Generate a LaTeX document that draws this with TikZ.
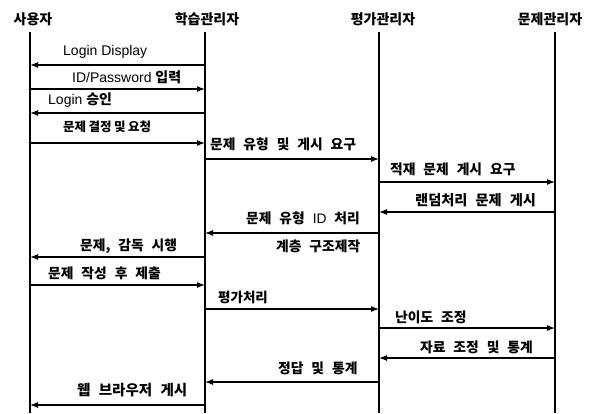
\documentclass[tikz,border=0pt]{standalone}
\usepackage{fontspec}
\setmainfont{Liberation Sans}
\newfontfamily\kr{Noto Sans CJK KR}[WordSpace=2.5]
\usetikzlibrary{arrows.meta}
\begin{document}
\begin{tikzpicture}[x=1pt,y=-1pt,
  life/.style={line width=1.1pt},
  msg/.style={line width=1.1pt,-{Latex[length=8pt,width=6pt]}},
  hdr/.style={font=\kr\bfseries\fontsize{14}{16}\selectfont, inner sep=0},
  lbl/.style={font=\kr\bfseries\fontsize{#1}{#1}\selectfont, inner sep=0, anchor=west},
  lbl/.default=13.8,
  lat/.style={font=\fontsize{14}{16}\selectfont, inner sep=0, anchor=west}]
\useasboundingbox[fill=white] (0,0) rectangle (596,413);
% headers
\node[hdr] (hu) at (33,19) {사용자};
\node[hdr] (hl) at (207,19) {학습관리자};
\node[hdr] (he) at (383,19) {평가관리자};
\node[hdr] (hp) at (550,19) {문제관리자};
% lifelines
\coordinate (u0) at (30,32);  \coordinate (u1) at (30,413);
\coordinate (l0) at (205,32); \coordinate (l1) at (205,413);
\coordinate (e0) at (379,32); \coordinate (e1) at (379,413);
\coordinate (p0) at (555,32); \coordinate (p1) at (555,413);
\draw[life] (u0) -- (u1);
\draw[life] (l0) -- (l1);
\draw[life] (e0) -- (e1);
\draw[life] (p0) -- (p1);
% messages
\draw[msg] (l0 |- 0,65) -- (u0 |- 0,65);
\node[lat] (m1) at (63,52) {Login Display};
\draw[msg] (u0 |- 0,89) -- (l0 |- 0,89);
\node[lat] (m2) at (72,77) {ID/Password {\kr\bfseries 입력}};
\draw[msg] (l0 |- 0,113) -- (u0 |- 0,113);
\node[lat] (m3) at (48,100) {Login {\kr\bfseries 승인}};
\draw[msg] (u0 |- 0,143) -- (l0 |- 0,143);
\node[lbl=12.5] (m4) at (63,127) {\spaceskip=2.5pt\relax 문제 결정 및 요청};
\draw[msg] (l0 |- 0,159) -- (e0 |- 0,159);
\node[lbl] (m5) at (210,144) {문제 유형 및 게시 요구};
\draw[msg] (e0 |- 0,182) -- (p0 |- 0,182);
\node[lbl] (m6) at (390,169) {적재 문제 게시 요구};
\draw[msg] (p0 |- 0,212) -- (e0 |- 0,212);
\node[lbl=14.2] (m7) at (415,200) {랜덤처리 문제 게시};
\draw[msg] (e0 |- 0,233) -- (l0 |- 0,233);
\node[lbl] (m8) at (246,218) {문제 유형 {\fontspec{Liberation Sans}\mdseries ID} 처리};
\node[lbl] (m9) at (276,246) {계층 구조제작};
\draw[msg] (l0 |- 0,257) -- (u0 |- 0,257);
\node[lbl] (m10) at (80,246) {문제, 감독 시행};
\draw[msg] (u0 |- 0,285) -- (l0 |- 0,285);
\node[lbl] (m11) at (48,273) {문제 작성 후 제출};
\draw[msg] (l0 |- 0,309) -- (e0 |- 0,309);
\node[lbl=13.5] (m12) at (218,297) {평가처리};
\draw[msg] (e0 |- 0,328) -- (p0 |- 0,328);
\node[lbl] (m13) at (395,317) {난이도 조정};
\draw[msg] (p0 |- 0,358) -- (e0 |- 0,358);
\node[lbl] (m14) at (420,347) {자료 조정 및 통계};
\draw[msg] (e0 |- 0,382) -- (l0 |- 0,382);
\node[lbl] (m15) at (278,368) {정답 및 통계};
\draw[msg] (l0 |- 0,405) -- (u0 |- 0,405);
\node[lbl=14.5] (m16) at (77,390) {웹 브라우저 게시};
\end{tikzpicture}
\end{document}
